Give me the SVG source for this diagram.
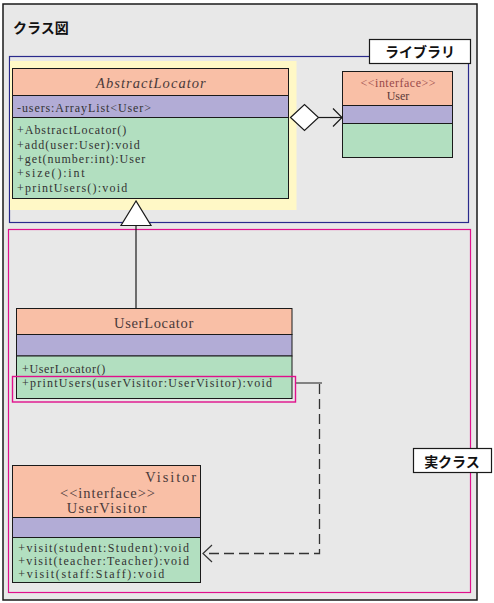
<svg xmlns="http://www.w3.org/2000/svg" width="494" height="603" viewBox="0 0 494 603">
<style>
.frame{fill:#e8e8e8;stroke:#1a1a1a;stroke-width:1.5}
.hd{fill:#f9bfa6;stroke:#1a1a1a;stroke-width:1}
.at{fill:#b2acd6;stroke:#1a1a1a;stroke-width:1}
.me{fill:#b2dfc0;stroke:#1a1a1a;stroke-width:1}
.t{font-family:"Liberation Serif","DejaVu Serif",serif;font-size:12px;fill:#333333}
.ti{font-family:"Liberation Serif","DejaVu Serif",serif;font-size:14.5px;fill:#4a3a3a}
.lb{font-family:"Noto Sans CJK JP","Noto Sans",sans-serif;font-size:14px;font-weight:bold;fill:#111111}
.lbox{fill:#ffffff;stroke:#1a1a1a;stroke-width:1.2}
.dash{fill:none;stroke:#333333;stroke-width:1.3;stroke-dasharray:10 5}
</style>
<rect class="frame" x="3" y="4" width="474" height="596"/>
<text class="lb" x="13" y="33">クラス図</text>

<g id="library">
<rect x="9.5" y="56.5" width="459" height="166" fill="none" stroke="#2a2a8c" stroke-width="1.2"/>
<rect class="lbox" x="369.5" y="39.5" width="101" height="24"/>
<text class="lb" x="420" y="57" text-anchor="middle">ライブラリ</text>
</g>

<g id="realclass">
<rect x="8.5" y="229.5" width="462" height="363" fill="none" stroke="#e0108c" stroke-width="1.2"/>
<rect class="lbox" x="413.5" y="448.5" width="78" height="24"/>
<text class="lb" x="452" y="467" text-anchor="middle">実クラス</text>
</g>

<g id="AbstractLocator">
<rect x="10" y="61" width="286.5" height="149" fill="#fff8c6"/>
<rect class="hd" x="12.5" y="68.5" width="276" height="27"/>
<rect class="at" x="12.5" y="95.5" width="276" height="22"/>
<rect class="me" x="12.5" y="117.5" width="276" height="81"/>
<text class="ti" x="96" y="88" font-style="italic" textLength="109.7">AbstractLocator</text>
<text class="t" x="17" y="111.5" textLength="134">-users:ArrayList&lt;User&gt;</text>
<text class="t" x="17" y="134" textLength="109.3">+AbstractLocator()</text>
<text class="t" x="17" y="148.5" textLength="122.7">+add(user:User):void</text>
<text class="t" x="17" y="163" textLength="128.3">+get(number:int):User</text>
<text class="t" x="17" y="177" textLength="67.7">+size():int</text>
<text class="t" x="17" y="191.5" textLength="110.3">+printUsers():void</text>
</g>

<g id="User">
<rect class="hd" x="342.5" y="71.5" width="110" height="34"/>
<rect class="at" x="342.5" y="105.5" width="110" height="18"/>
<rect class="me" x="342.5" y="123.5" width="110" height="34"/>
<text class="t" x="398" y="86.5" text-anchor="middle" fill="#9a4a4a" style="fill:#9a4a4a" textLength="75">&lt;&lt;interface&gt;&gt;</text>
<text class="t" x="398" y="100" text-anchor="middle" style="fill:#5a3a3a" textLength="22.7">User</text>
</g>

<g id="UserLocator">
<rect class="hd" x="16.5" y="308.5" width="275.5" height="26"/>
<rect class="at" x="16.5" y="334.5" width="275.5" height="21.5"/>
<rect class="me" x="16.5" y="356" width="275.5" height="42.5"/>
<text class="ti" x="114" y="327.5" textLength="79.3">UserLocator</text>
<text class="t" x="22" y="373" textLength="83.3">+UserLocator()</text>
<text class="t" x="22" y="386.5" textLength="250">+printUsers(userVisitor:UserVisitor):void</text>
<rect x="12.5" y="376.5" width="283" height="25.5" fill="none" stroke="#e0108c" stroke-width="1.4"/>
</g>

<g id="UserVisitor">
<rect class="hd" x="12.5" y="465.5" width="188" height="52"/>
<rect class="at" x="12.5" y="517.5" width="188" height="20"/>
<rect class="me" x="12.5" y="537.5" width="188" height="45"/>
<text class="ti" x="196" y="481.5" text-anchor="end" textLength="50.7">Visitor</text>
<text class="ti" x="107.5" y="498" text-anchor="middle" textLength="95">&lt;&lt;interface&gt;&gt;</text>
<text class="ti" x="106.7" y="512.5" text-anchor="middle" textLength="80">UserVisitor</text>
<text class="t" x="18.3" y="551.5" textLength="170.7">+visit(student:Student):void</text>
<text class="t" x="18.3" y="564.5" textLength="170.7">+visit(teacher:Teacher):void</text>
<text class="t" x="18.3" y="577.5" textLength="146">+visit(staff:Staff):void</text>
</g>

<g id="connectors">
<polygon points="290.5,117.5 304.5,104.5 318.5,117.5 304.5,130.5" fill="#ffffff" stroke="#1a1a1a" stroke-width="1.2"/>
<line x1="318.5" y1="117.5" x2="342" y2="117.5" stroke="#1a1a1a" stroke-width="1.2"/>
<polyline points="333,108.5 342,117.5 333,126.5" fill="none" stroke="#1a1a1a" stroke-width="1.2"/>
<polygon points="136,201 121,225.5 151,225.5" fill="#ffffff" stroke="#1a1a1a" stroke-width="1.2"/>
<line x1="136" y1="225.5" x2="136" y2="308.5" stroke="#1a1a1a" stroke-width="1.2"/>
<line x1="296" y1="383" x2="322" y2="383" stroke="#777777" stroke-width="1.8"/>
<polyline class="dash" points="319.5,384 319.5,553.5 204,553.5"/>
<polyline points="212,545 203,553.5 212,562" fill="none" stroke="#333333" stroke-width="1.2"/>
</g>
</svg>
